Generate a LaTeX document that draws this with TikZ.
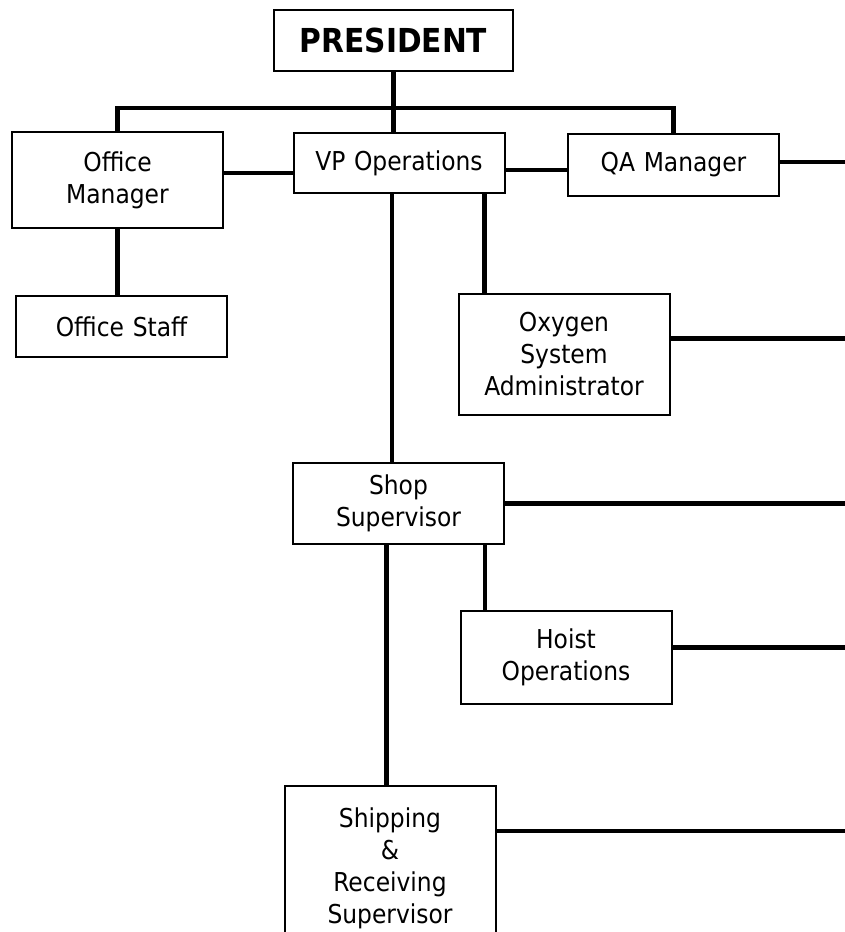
\documentclass[tikz,border=0pt]{standalone}
\usepackage{fontspec}
\setmainfont{DejaVu Sans Condensed}
\usepackage{tikz}
\usetikzlibrary{positioning}
\tikzstyle{post} = [rectangle, draw, fill=white, line width=2pt,
    text width=211pt, inner xsep=0pt, text centered, font=\fontsize{26}{32}\selectfont]
\tikzstyle{head} = [post, text width=239pt, font=\fontsize{33}{40}\selectfont\bfseries]
\tikzstyle{link} = [draw, line width=4.5pt]

\begin{document}
\begin{tikzpicture}[x=1pt, y=-1pt]
    \clip (0,0) rectangle (845,932);
    % Nodes
    \node [head, minimum height=61pt] (president) at (393.5,40.5) {PRESIDENT};
    \node [post, minimum height=96pt] (offmgr) at (117.5,180) {Office\\Manager};
    \node [post, minimum height=60pt] (vpops) at (399,163) {VP Operations};
    \node [post, minimum height=62pt] (qamgr) at (673.5,165) {QA Manager};
    \node [post, minimum height=61pt] (offstaff) at (121.5,326.5) {Office Staff};
    \node [post, minimum height=121pt] (oxygen) at (564,354.5) {Oxygen\\System\\Administrator};
    \node [post, minimum height=81pt] (shop) at (398.5,503.5) {Shop\\Supervisor};
    \node [post, minimum height=164pt] (shipping) at (390,868) {Shipping\\\&\\Receiving\\Supervisor};
    \node [post, minimum height=93pt] (hoist) at (566,657.5) {Hoist\\Operations};
    \coordinate (bar) at (0,108);
    \coordinate (edge) at (850,0);
    % Edges
    \path [link] (offmgr.north) -- (offmgr.north |- bar) -- (qamgr.north |- bar) -- (qamgr.north);
    \path [link] (president.south) -- (president.south |- vpops.north);
    \path [link] ([yshift=7pt]offmgr.east) -- ([yshift=7pt]offmgr.east -| vpops.west);
    \path [link] ([yshift=-7pt]vpops.east) -- ([yshift=-7pt]vpops.east -| qamgr.west);
    \path [link] ([yshift=3pt]qamgr.east) -- ([yshift=3pt]qamgr.east -| edge);
    \path [link] (offmgr.south) -- (offmgr.south |- offstaff.north);
    \path [link] ([xshift=-21pt]vpops.south east) -- ([xshift=-21pt]vpops.south east |- oxygen.north);
    \path [link] ([xshift=-7pt]vpops.south) -- ([xshift=-7pt]vpops.south |- shop.north);
    \path [link] ([yshift=16pt]oxygen.east) -- ([yshift=16pt]oxygen.east -| edge);
    \path [link] (shop.east) -- (shop.east -| edge);
    \path [link] ([xshift=-20pt]shop.south east) -- ([xshift=-20pt]shop.south east |- hoist.north);
    \path [link] ([xshift=-12pt]shop.south) -- ([xshift=-12pt]shop.south |- shipping.north);
    \path [link] ([yshift=10pt]hoist.east) -- ([yshift=10pt]hoist.east -| edge);
    \path [link] ([yshift=-46pt]shipping.north east) -- ([yshift=-46pt]shipping.north east -| edge);
\end{tikzpicture}
\end{document}
